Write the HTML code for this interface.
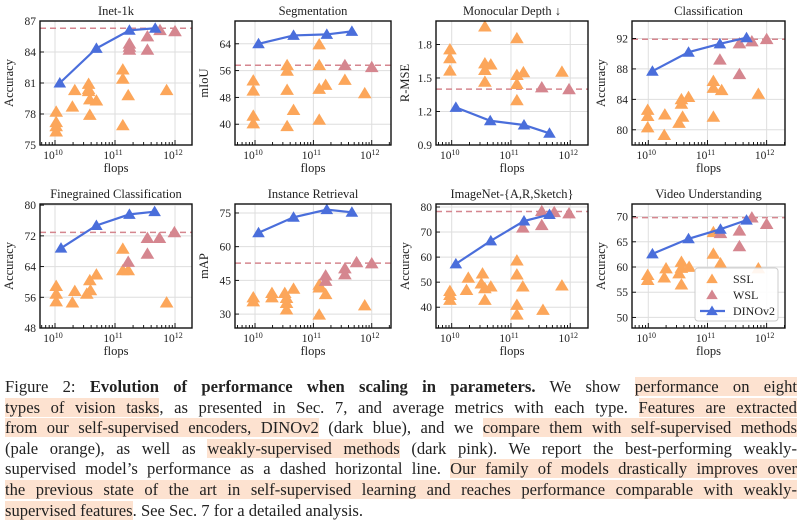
<!DOCTYPE html>
<html><head><meta charset="utf-8">
<style>
html,body{margin:0;padding:0;background:#fff;width:803px;height:527px;overflow:hidden}
#fig{position:absolute;left:0;top:0}
#cap{position:absolute;left:5px;top:377px;width:792px;font-family:"Liberation Serif",serif;font-size:16.6px;color:#222;line-height:20.6px}
.ln{display:block;text-align:justify;text-align-last:justify;white-space:nowrap;height:20.6px}
.ln.last{text-align-last:left}
.hl{background:#fde2d0}
</style></head><body>
<svg id="fig" width="803" height="375" xmlns="http://www.w3.org/2000/svg"></svg>
<div id="cap">
<span class="ln">Figure 2: <b>Evolution of performance when scaling in parameters.</b> We show <span class="hl">performance on eight</span></span>
<span class="ln"><span class="hl">types of vision tasks</span>, as presented in Sec. 7, and average metrics with each type. <span class="hl">Features are extracted</span></span>
<span class="ln"><span class="hl">from our self-supervised encoders, DINOv2</span> (dark blue), and we <span class="hl">compare them with self-supervised methods</span></span>
<span class="ln">(pale orange), as well as <span class="hl">weakly-supervised methods</span> (dark pink). We report the best-performing weakly-</span>
<span class="ln">supervised model’s performance as a dashed horizontal line. <span class="hl">Our family of models drastically improves over</span></span>
<span class="ln"><span class="hl">the previous state of the art in self-supervised learning and reaches performance comparable with weakly-</span></span>
<span class="ln last"><span class="hl">supervised features</span>. See Sec. 7 for a detailed analysis.</span>
</div>
<script>
// ---- data (x = log10 flops) ----
const titles = ["Inet-1k","Segmentation","Monocular Depth ↓","Classification","Finegrained Classification","Instance Retrieval","ImageNet-{A,R,Sketch}","Video Understanding"];
const yLabels = ["Accuracy","mIoU","R-MSE","Accuracy","Accuracy","mAP","Accuracy","Accuracy"];
const yTicks = [[75,78,81,84,87],[40,48,56,64],[0.9,1.2,1.5,1.8],[80,84,88,92],[48,56,64,72,80],[30,45,60,75],[40,50,60,70,80],[50,55,60,65,70]];
const yRanges = [[75,87],[33.8,70.8],[0.9,2.01],[78.0,94.3],[48,80.3],[23.8,79],[31.7,81.2],[47.9,72.5]];
const dinoX = [[10.08,10.69,11.24,11.67],[10.06,10.66,11.23,11.66],[10.07,10.65,11.22,11.65],[10.07,10.68,11.21,11.66],[10.1,10.69,11.24,11.66],[10.06,10.66,11.23,11.66],[10.07,10.66,11.22,11.65],[10.07,10.68,11.22,11.66]];
const dinoY = [[81.0,84.35,86.1,86.3],[64,66.5,66.8,67.7],[1.237,1.117,1.079,1.005],[87.7,90.2,91.3,92.1],[68.8,74.7,77.6,78.3],[66.2,73.1,76.5,75.3],[57.3,66.5,74.4,77.0],[62.6,65.6,67.5,69.3]];
const wslBest = [86.3,57.6,1.40,91.9,72.9,52.7,78.2,69.8];
const wslX = [[11.75,12.0,11.54,11.54,11.24,11.24,11.24],[11.54,12.0],[11.52,11.98],[12.0,11.75,11.54,11.21,11.54],[11.99,11.74,11.54,11.54,11.22],[12.0,11.74,11.54,11.54,11.21,11.21],[11.52,11.73,11.98,11.52,11.2],[11.75,12.0,11.54,11.54,11.22]];
const wslY = [[86.1,86.0,85.5,84.2,84.8,84.5,84.2],[57.6,57.0],[1.415,1.398],[91.9,91.6,91.35,89.2,87.3],[72.9,71.4,71.4,67.3,65.2],[52.5,53.0,50.3,47.6,47.1,44.7],[78.3,77.9,77.4,72.7,71.7],[69.8,68.5,67.2,64.1,66.7]];
const sslX = [
 [10.02,10.02,10.02,10.02,10.33,10.29,10.56,10.56,10.56,10.58,10.69,10.58,11.13,11.13,11.13,11.22,11.86],
 [11.1,9.97,9.97,9.97,9.97,10.55,10.55,10.55,10.55,10.66,11.1,11.1,11.1,11.21,11.54,11.88],
 [9.97,9.97,9.97,10.56,10.56,10.56,10.56,10.66,11.1,11.1,11.1,11.1,11.21,11.86],
 [9.99,9.99,9.99,10.28,10.27,10.56,10.56,10.58,10.52,10.68,11.1,11.1,11.1,11.24,11.86],
 [10.02,10.02,10.02,10.29,10.33,10.53,10.59,10.58,10.69,11.13,11.13,11.22,11.86],
 [9.97,9.97,10.29,10.29,10.51,10.54,10.54,10.54,10.66,11.1,11.1,11.1,11.21,11.88],
 [9.97,9.97,9.97,10.28,10.25,10.52,10.5,10.56,10.56,10.66,11.1,11.1,11.1,11.1,11.2,11.54,11.86],
 [9.99,9.99,10.27,10.3,10.52,10.56,10.56,10.56,10.69,11.1,11.1,11.22,11.86]];
const sslY = [
 [78.2,77.2,76.8,76.3,80.3,78.7,80.9,80.4,80.2,79.4,79.3,77.9,82.3,81.4,76.9,79.8,80.3],
 [57.6,53,50,42.5,40.2,57.6,55.9,50.2,39.4,44.2,63.8,50.5,41.3,51.7,53.2,49.2],
 [1.755,1.675,1.565,1.96,1.63,1.57,1.465,1.62,1.855,1.525,1.445,1.30,1.55,1.555],
 [82.6,81.8,80.3,82.0,79.3,84.0,83.4,81.7,80.9,84.3,86.4,85.5,81.7,85.2,84.7],
 [58.9,56.9,54.9,54.6,57.6,56.9,57.8,60.4,61.9,68.6,63.0,63.0,54.6],
 [37.4,35.6,37.4,39.3,39.3,37.1,34.9,32,41.2,43,41.8,29.7,38.8,33.8],
 [46.4,44.8,42.9,51.7,46.8,53.4,49.4,47.5,42.9,48.2,58.6,53.0,40.9,37,48.2,38.9,48.6],
 [58.4,57.4,57.9,59.7,58.7,61,59.8,56.5,60,66.9,62.6,60.7,59.7]];

// ---- layout ----
const boxes = [[40,21,192,145],[235,21,391,145],[436,21,588,145],[632,21,785,145],[40,204,192,328],[235,204,391,328],[436,204,588,328],[632,204,785,328]];
const xr = [[9.75,12.283],[9.657,12.33],[9.735,12.30],[9.725,12.31],[9.75,12.283],[9.657,12.33],[9.735,12.30],[9.725,12.31]];
const NS="http://www.w3.org/2000/svg";
const svg=document.getElementById('fig');
const C_SSL="#fca65a", C_WSL="#d5868f", C_DINO="#4a6edb";
function mk(tag,attrs,parent){const e=document.createElementNS(NS,tag);for(const k in attrs)e.setAttribute(k,attrs[k]);(parent||svg).appendChild(e);return e;}
function tri(g,cx,cy,col,s){s=s||6.5;return mk('polygon',{points:`${cx},${cy-s} ${cx-s*1.05},${cy+s*0.75} ${cx+s*1.05},${cy+s*0.75}`,fill:col},g);}
const FONT='"Liberation Serif",serif';
for(let p=0;p<8;p++){
  const [L,T,R,B]=boxes[p];
  const sx=v=>L+(v-xr[p][0])/(xr[p][1]-xr[p][0])*(R-L);
  const sy=v=>B-(v-yRanges[p][0])/(yRanges[p][1]-yRanges[p][0])*(B-T);
  const g=mk('g',{});
  
  
  for(let d=10;d<=12;d++){const x=sx(d);mk('line',{x1:x,x2:x,y1:T,y2:B,stroke:'#dedede','stroke-width':1},g);}
  yTicks[p].forEach(v=>{const y=sy(v);if(y>T+0.5&&y<B-0.5)mk('line',{x1:L,x2:R,y1:y,y2:y,stroke:'#dedede','stroke-width':1},g);});
  const dl=mk('line',{x1:L,x2:R,y1:sy(wslBest[p]),y2:sy(wslBest[p]),stroke:C_WSL,'stroke-width':1.5,'stroke-dasharray':'6,4'},g);
  
  
  sslX[p].forEach((x,i)=>{const t=tri(g,sx(x),sy(sslY[p][i]),C_SSL);
    
    });
  wslX[p].forEach((x,i)=>{const t=tri(g,sx(x),sy(wslY[p][i]),C_WSL);
    
    });
  const pts=dinoX[p].map((x,i)=>sx(x)+','+sy(dinoY[p][i])).join(' ');
  const pl=mk('polyline',{points:pts,fill:'none',stroke:C_DINO,'stroke-width':2.2},g);
  
  
  dinoX[p].forEach((x,i)=>{const t=tri(g,sx(x),sy(dinoY[p][i]),C_DINO,6);
    
    });
  for(let d=9;d<=12;d++){for(let m=1;m<10;m++){const v=d+Math.log10(m);if(v<xr[p][0]||v>xr[p][1])continue;const x=sx(v);const len=m===1?5:3;mk('line',{x1:x,x2:x,y1:B,y2:B-len,stroke:'#000','stroke-width':0.9},g);}}
  yTicks[p].forEach(v=>{const y=sy(v);mk('line',{x1:L,x2:L+4,y1:y,y2:y,stroke:'#000','stroke-width':0.9},g);
    const t=mk('text',{x:L-4,y:y+4,'text-anchor':'end','font-family':FONT,'font-size':11.5,fill:'#222'},g);t.textContent=String(v);
    
    });
  for(let d=10;d<=12;d++){const x=sx(d);const t=mk('text',{x:x-2,y:B+14,'text-anchor':'middle','font-family':FONT,'font-size':11.5,fill:'#222'},g);
    
    
    t.appendChild(document.createTextNode('10'));const ts=mk('tspan',{dy:-4,'font-size':8},t);ts.textContent=String(d);}
  mk('rect',{x:L,y:T,width:R-L,height:B-T,fill:'none',stroke:'#111','stroke-width':1.4},g);
  const tt=mk('text',{x:(L+R)/2,y:T-6,'text-anchor':'middle','font-family':FONT,'font-size':12.5,fill:'#222'},g);tt.textContent=titles[p];
  
  
  const xl=mk('text',{x:(L+R)/2,y:B+27,'text-anchor':'middle','font-family':FONT,'font-size':12.5,fill:'#222'},g);xl.textContent='flops';
  
  
  const lx=L-27,ly=(T+B)/2;
  const yl=mk('text',{x:lx,y:ly,'text-anchor':'middle','font-family':FONT,'font-size':12.5,fill:'#222',transform:`rotate(-90 ${lx} ${ly})`},g);yl.textContent=yLabels[p];
  
  
}
const lg=mk('g',{});


mk('rect',{x:695,y:268,width:83,height:53,rx:3,fill:'#fff','fill-opacity':0.9,stroke:'#ccc','stroke-width':1},lg);
const names=['SSL','WSL','DINOv2'],cols=[C_SSL,C_WSL,C_DINO],lyy=[279,295,311];
for(let i=0;i<3;i++){
  if(i===2)mk('line',{x1:700,x2:725,y1:lyy[i],y2:lyy[i],stroke:C_DINO,'stroke-width':2.2},lg);
  tri(lg,712,lyy[i],cols[i],5.5);
  const t=mk('text',{x:733,y:lyy[i]+4,'font-family':FONT,'font-size':12,fill:'#222'},lg);t.textContent=names[i];
  
  
}
</script>
</body></html>
